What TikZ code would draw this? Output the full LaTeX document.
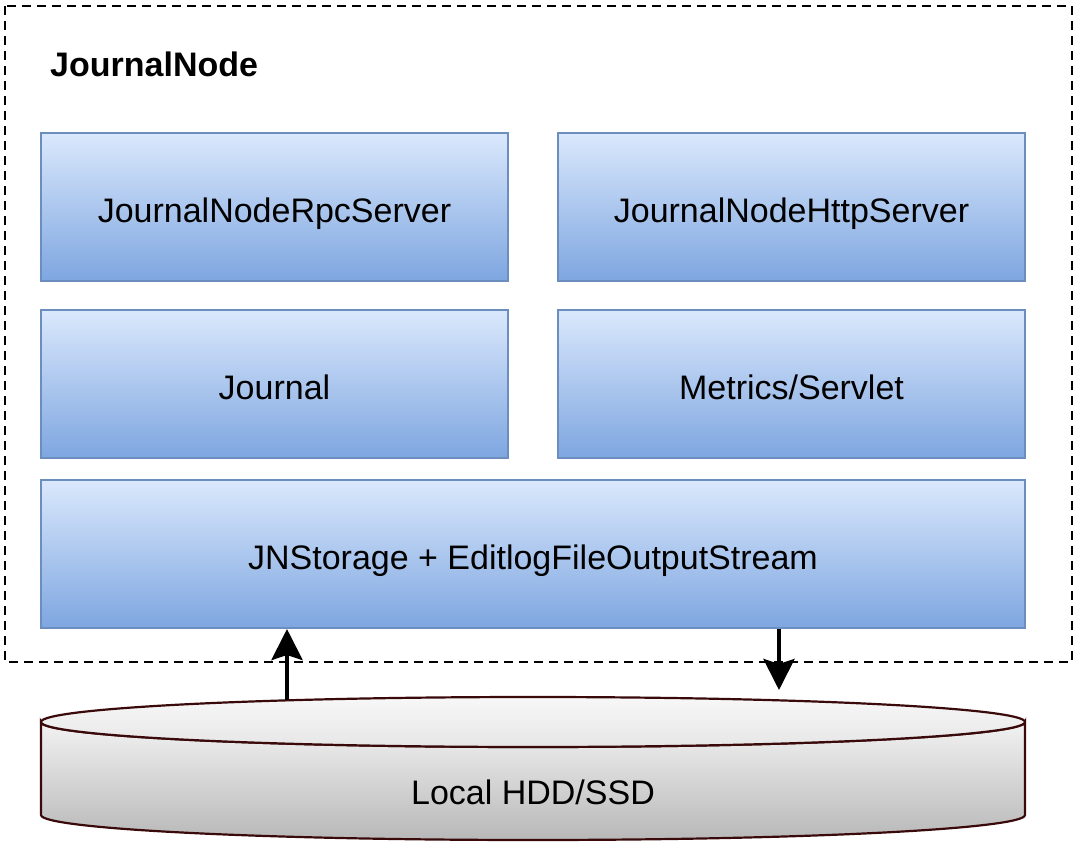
\documentclass[tikz,border=0pt]{standalone}
\usepackage{fontspec}
\setmainfont{Liberation Sans}
\usetikzlibrary{arrows.meta}
\definecolor{boxtop}{HTML}{DAE8FC}
\definecolor{boxbot}{HTML}{7EA6E0}
\definecolor{boxline}{HTML}{6C8EBF}
\definecolor{disktop}{HTML}{F2F2F2}
\definecolor{diskbot}{HTML}{B8B8B8}
\definecolor{diskline}{HTML}{3A0A0A}
\tikzset{
  compbox/.style={draw=boxline, line width=2pt, top color=boxtop, bottom color=boxbot,
    minimum width=467pt, minimum height=148pt, inner sep=0pt, text height=30pt, text depth=0pt,
    font=\fontsize{34}{40}\selectfont},
  widebox/.style={compbox, minimum width=984pt},
  flow/.style={line width=4.5pt, -{Stealth[length=31pt,width=31pt,inset=5pt]}},
  outerbox/.style={draw=black, line width=2pt, dash pattern=on 9pt off 6pt},
  disk/.style={draw=diskline, line width=2.2pt}
}
\begin{document}
\begin{tikzpicture}[x=1pt,y=-1pt]
\useasboundingbox (0,0) rectangle (1080,851);
% outer dashed container
\draw[outerbox] (5,6) rectangle (1072,662);
\node[anchor=base west, inner sep=0pt, font=\fontsize{34}{40}\selectfont\bfseries] (title) at (50,77) {JournalNode};
% components
\node[compbox] (rpc) at (274.5,207) {JournalNodeRpcServer};
\node[compbox] (http) at (791.5,207) {JournalNodeHttpServer};
\node[compbox] (journal) at (274.5,384) {Journal};
\node[compbox] (metrics) at (791.5,384) {Metrics/Servlet};
\node[widebox] (storage) at (533,554) {JNStorage + EditlogFileOutputStream};
% disk cylinder
\path[disk, top color=disktop, bottom color=diskbot]
  (41,722) -- (41,815) arc[start angle=180, end angle=0, x radius=492, y radius=25]
  -- (1025,722) arc[start angle=0, end angle=180, x radius=492, y radius=25] -- cycle;
\path[disk, top color=disktop!60!white, bottom color=disktop!80!diskbot]
  (533,722) ellipse[x radius=492, y radius=25];
\node[font=\fontsize{34}{40}\selectfont, inner sep=0pt, anchor=base] (disklabel) at (533,804) {Local HDD/SSD};
\coordinate (diskin) at (287,700);
\coordinate (diskout) at (779,690);
% connectors
\draw[flow] (diskin) -- (storage.south -| diskin);
\draw[flow] (storage.south -| diskout) -- (diskout);
\end{tikzpicture}
\end{document}
